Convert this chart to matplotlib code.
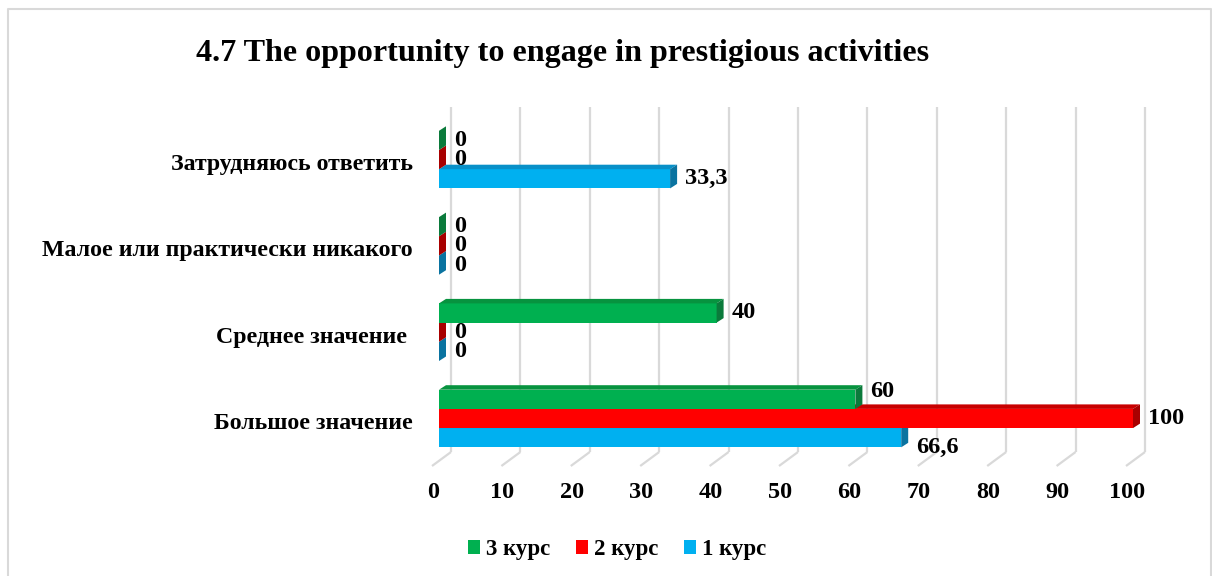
import matplotlib
matplotlib.use('Agg')
import matplotlib.pyplot as plt
from matplotlib.patches import Polygon, Patch

# ---------------- data ----------------
categories = ['Большое значение', 'Среднее значение ',
              'Малое или практически никакого', 'Затрудняюсь ответить']
series_names = ['3 курс', '2 курс', '1 курс']
values_3 = [60, 40, 0, 0]
values_2 = [100, 0, 0, 0]
values_1 = [66.6, 0, 0, 33.3]
xticks = [0, 10, 20, 30, 40, 50, 60, 70, 80, 90, 100]
title = '4.7 The opportunity to engage in prestigious activities'

# ---------------- style ----------------
col_front = {'3 курс': '#00B050', '2 курс': '#FF0000', '1 курс': '#00B0F0'}
col_side = {'3 курс': '#0B7A3B', '2 курс': '#A80000', '1 курс': '#0A73A0'}
col_top = {'3 курс': '#07933F', '2 курс': '#C80000', '1 курс': '#0890C8'}
grid_col = '#D9D9D9'

plt.rcParams['font.family'] = ['Liberation Serif', 'DejaVu Serif']
plt.rcParams['font.weight'] = 'bold'

W, H = 1212, 576
PX0, PXU = 439.0, 6.94      # pixel of value 0 (front), pixels per unit
Y0, YS = 418.5, 86.3         # pixel of first category center, pixels per category

fig = plt.figure(figsize=(W / 100, H / 100), dpi=100)
ax = fig.add_axes([0, 0, 1, 1])
ax.set_xlim(-PX0 / PXU, (W - PX0) / PXU)
ax.set_ylim((Y0 - H) / YS, Y0 / YS)
ax.axis('off')

def dxp(p):
    return p / PXU

def dyp(p):
    return p / YS

# border of the chart area
bx0, bx1, by0 = 8, 1211, 9
fig.add_artist(plt.Line2D([bx0 / W, bx0 / W, bx1 / W, bx1 / W],
                          [0, 1 - by0 / H, 1 - by0 / H, 0],
                          transform=fig.transFigure, color=grid_col, lw=1.5))

# gridlines (back wall) with floor diagonals
back_dx = 12
grid_top_px, grid_bot_px = 107, 452
for t in xticks:
    xb = t + dxp(back_dx)
    ax.plot([xb, xb], [(Y0 - grid_bot_px) / YS, (Y0 - grid_top_px) / YS],
            color=grid_col, lw=1.6, zorder=1, solid_capstyle='butt')
    ax.plot([xb, xb - dxp(19)], [(Y0 - grid_bot_px) / YS, (Y0 - grid_bot_px - 14) / YS],
            color=grid_col, lw=1.6, zorder=1, solid_capstyle='butt')
    ax.text(t - dxp(6), (Y0 - 493) / YS, str(t), ha='center', va='center',
            fontsize=17.5, fontweight='bold', zorder=6)

# bars
h = dyp(19.2)
ddx, ddy = dxp(7), dyp(4.5)
series_vals = {'3 курс': values_3, '2 курс': values_2, '1 курс': values_1}
series_off = {'3 курс': h, '2 курс': 0.0, '1 курс': -h}
series_z = {'3 курс': 5, '2 курс': 4, '1 курс': 3}
label_dy_px = {('3 курс', 0): -8, ('1 курс', 0): 10}

for name in ['1 курс', '2 курс', '3 курс']:
    vals = series_vals[name]
    ys = [i + series_off[name] for i in range(len(categories))]
    z = series_z[name]
    ax.barh(ys, vals, height=h, color=col_front[name], zorder=z, linewidth=0)
    for i, (y, v) in enumerate(zip(ys, vals)):
        yb, yt = y - h / 2, y + h / 2
        # top face
        ax.add_patch(Polygon([(0, yt), (v, yt), (v + ddx, yt + ddy), (ddx, yt + ddy)],
                             closed=True, color=col_top[name], lw=0, zorder=z))
        # side face
        ax.add_patch(Polygon([(v, yb), (v, yt), (v + ddx, yt + ddy), (v + ddx, yb + ddy)],
                             closed=True, color=col_side[name], lw=0, zorder=z))
        lbl = f'{v:g}'.replace('.', ',')
        ly = y - dyp(label_dy_px.get((name, i), 0))
        ax.text(v + dxp(15), ly, lbl, ha='left', va='center',
                fontsize=17.5, fontweight='bold', zorder=7)

# category labels
for i, c in enumerate(categories):
    ax.text((413 - PX0) / PXU, i - dyp(5), c, ha='right', va='center',
            fontsize=17.2, fontweight='bold')

# title
fig.text(563 / W, 1 - 53 / H, title, ha='center', va='center',
         fontsize=23.1, fontweight='bold')

# legend
handles = [Patch(facecolor=col_front[n], edgecolor='none') for n in series_names]
leg = fig.legend(handles, series_names, loc='center', bbox_to_anchor=(617 / W, 1 - 550 / H),
                 ncol=3, frameon=False, handlelength=0.55, handleheight=0.55,
                 handletextpad=0.25, columnspacing=1.1, prop={'size': 16.5, 'weight': 'bold'})

fig.savefig('out.png', dpi=100)
